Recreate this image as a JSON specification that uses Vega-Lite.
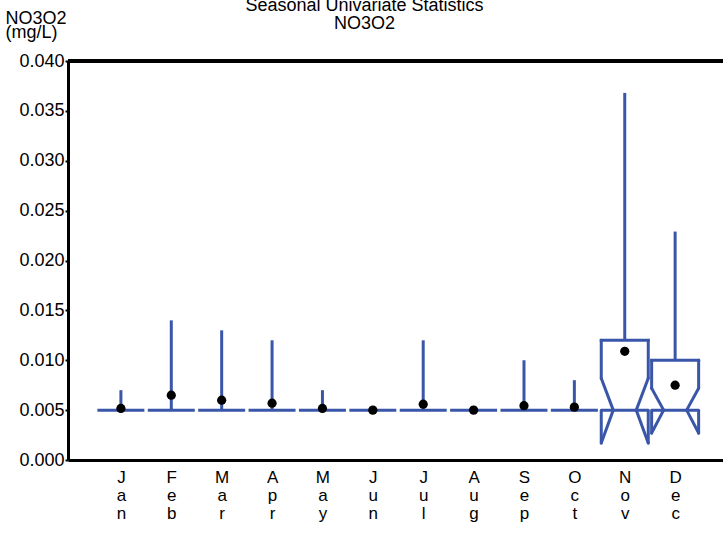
{
  "$schema": "https://vega.github.io/schema/vega-lite/v6.json",
  "autosize": {"type": "none"},
  "padding": {"left": 68, "top": 61, "right": 0, "bottom": 75},
  "width": 655,
  "height": 399,
  "background": "white",
  "title": {
    "text": ["Seasonal Univariate Statistics", "NO3O2"],
    "font": "Liberation Sans",
    "fontSize": 18,
    "fontWeight": "normal",
    "lineHeight": 18,
    "color": "black",
    "anchor": "middle",
    "frame": "group",
    "dx": -31,
    "dy": 28,
    "offset": 4
  },
  "config": {
    "view": {"stroke": null},
    "font": "Liberation Sans"
  },
  "data": {
    "values": [
      {"month": "Jan", "m": 1, "q1": 0.005, "med": 0.005, "q3": 0.005, "nlo": 0.005, "nhi": 0.005, "max": 0.007, "mean": 0.00517},
      {"month": "Feb", "m": 2, "q1": 0.005, "med": 0.005, "q3": 0.005, "nlo": 0.005, "nhi": 0.005, "max": 0.014, "mean": 0.0065},
      {"month": "Mar", "m": 3, "q1": 0.005, "med": 0.005, "q3": 0.005, "nlo": 0.005, "nhi": 0.005, "max": 0.013, "mean": 0.006},
      {"month": "Apr", "m": 4, "q1": 0.005, "med": 0.005, "q3": 0.005, "nlo": 0.005, "nhi": 0.005, "max": 0.012, "mean": 0.0057},
      {"month": "May", "m": 5, "q1": 0.005, "med": 0.005, "q3": 0.005, "nlo": 0.005, "nhi": 0.005, "max": 0.007, "mean": 0.00517},
      {"month": "Jun", "m": 6, "q1": 0.005, "med": 0.005, "q3": 0.005, "nlo": 0.005, "nhi": 0.005, "max": 0.005, "mean": 0.005},
      {"month": "Jul", "m": 7, "q1": 0.005, "med": 0.005, "q3": 0.005, "nlo": 0.005, "nhi": 0.005, "max": 0.012, "mean": 0.0056},
      {"month": "Aug", "m": 8, "q1": 0.005, "med": 0.005, "q3": 0.005, "nlo": 0.005, "nhi": 0.005, "max": 0.005, "mean": 0.005},
      {"month": "Sep", "m": 9, "q1": 0.005, "med": 0.005, "q3": 0.005, "nlo": 0.005, "nhi": 0.005, "max": 0.010, "mean": 0.00545},
      {"month": "Oct", "m": 10, "q1": 0.005, "med": 0.005, "q3": 0.005, "nlo": 0.005, "nhi": 0.005, "max": 0.008, "mean": 0.0053},
      {"month": "Nov", "m": 11, "q1": 0.005, "med": 0.005, "q3": 0.012, "nlo": 0.0017, "nhi": 0.0082, "max": 0.0368, "mean": 0.0109},
      {"month": "Dec", "m": 12, "q1": 0.005, "med": 0.005, "q3": 0.010, "nlo": 0.0027, "nhi": 0.0072, "max": 0.0229, "mean": 0.0075}
    ]
  },
  "encoding": {
    "y": {
      "type": "quantitative",
      "scale": {"domain": [0, 0.04], "nice": false, "zero": false},
      "axis": {
        "title": ["NO3O2", "(mg/L)"],
        "titleAngle": 0,
        "titleAlign": "left",
        "titleBaseline": "alphabetic",
        "titleX": -63,
        "titleY": -38,
        "titleFont": "Liberation Sans",
        "titleFontSize": 18,
        "titleFontWeight": "normal",
        "titleLineHeight": 14,
        "titleColor": "black",
        "values": [0, 0.005, 0.01, 0.015, 0.02, 0.025, 0.03, 0.035, 0.04],
        "format": ".3f",
        "grid": false,
        "domainColor": "black",
        "domainWidth": 3,
        "tickColor": "black",
        "tickSize": 3,
        "tickWidth": 2,
        "labelFont": "Liberation Sans",
        "labelFontSize": 18,
        "labelColor": "black",
        "labelPadding": 1,
        "labelBaseline": "middle"
      }
    }
  },
  "layer": [
    {
      "mark": {"type": "rule", "color": "black", "strokeWidth": 3},
      "encoding": {"y": {"datum": 0.04, "type": "quantitative"}}
    },
    {
      "encoding": {
        "x": {
          "field": "m",
          "type": "quantitative",
          "scale": {"domain": [-0.05, 12.95], "nice": false, "zero": false},
          "axis": {
            "title": null,
            "values": [1, 2, 3, 4, 5, 6, 7, 8, 9, 10, 11, 12],
            "labelExpr": "[['J','a','n'],['F','e','b'],['M','a','r'],['A','p','r'],['M','a','y'],['J','u','n'],['J','u','l'],['A','u','g'],['S','e','p'],['O','c','t'],['N','o','v'],['D','e','c']][datum.value - 1]",
            "ticks": false,
            "grid": false,
            "domainColor": "black",
            "domainWidth": 3,
            "labelFont": "Liberation Sans",
            "labelFontSize": 17,
            "labelColor": "black",
            "labelLineHeight": 18,
            "labelBaseline": "top",
            "labelPadding": 9,
            "labelFlush": false,
            "labelOverlap": false
          }
        }
      },
      "layer": [
        {
          "mark": {"type": "rule", "color": "#3a56a8", "strokeWidth": 3},
          "encoding": {"y": {"field": "q3"}, "y2": {"field": "max"}}
        },
        {
          "mark": {"type": "rule", "color": "#3a56a8", "strokeWidth": 3, "xOffset": -23.5, "x2Offset": 23.5},
          "encoding": {"x2": {"field": "m"}, "y": {"field": "q1"}}
        },
        {
          "transform": [{"filter": "datum.q3 > datum.q1"}],
          "layer": [
            {
              "mark": {"type": "rule", "color": "#3a56a8", "strokeWidth": 3, "strokeCap": "square", "xOffset": -23.5, "x2Offset": 23.5},
              "encoding": {"x2": {"field": "m"}, "y": {"field": "q3"}}
            },
            {
              "mark": {"type": "rule", "color": "#3a56a8", "strokeWidth": 3, "strokeCap": "round", "xOffset": -23.5, "x2Offset": -23.5},
              "encoding": {"x2": {"field": "m"}, "y": {"field": "q3"}, "y2": {"field": "nhi"}}
            },
            {
              "mark": {"type": "rule", "color": "#3a56a8", "strokeWidth": 3, "strokeCap": "round", "xOffset": 23.5, "x2Offset": 23.5},
              "encoding": {"x2": {"field": "m"}, "y": {"field": "q3"}, "y2": {"field": "nhi"}}
            },
            {
              "mark": {"type": "rule", "color": "#3a56a8", "strokeWidth": 3, "strokeCap": "round", "xOffset": -23.5, "x2Offset": -11.5},
              "encoding": {"x2": {"field": "m"}, "y": {"field": "nhi"}, "y2": {"field": "med"}}
            },
            {
              "mark": {"type": "rule", "color": "#3a56a8", "strokeWidth": 3, "strokeCap": "round", "xOffset": 23.5, "x2Offset": 11.5},
              "encoding": {"x2": {"field": "m"}, "y": {"field": "nhi"}, "y2": {"field": "med"}}
            },
            {
              "mark": {"type": "rule", "color": "#3a56a8", "strokeWidth": 3, "strokeCap": "round", "xOffset": -11.5, "x2Offset": -23.5},
              "encoding": {"x2": {"field": "m"}, "y": {"field": "med"}, "y2": {"field": "nlo"}}
            },
            {
              "mark": {"type": "rule", "color": "#3a56a8", "strokeWidth": 3, "strokeCap": "round", "xOffset": 11.5, "x2Offset": 23.5},
              "encoding": {"x2": {"field": "m"}, "y": {"field": "med"}, "y2": {"field": "nlo"}}
            },
            {
              "mark": {"type": "rule", "color": "#3a56a8", "strokeWidth": 3, "strokeCap": "round", "xOffset": -23.5, "x2Offset": -23.5},
              "encoding": {"x2": {"field": "m"}, "y": {"field": "nlo"}, "y2": {"field": "q1"}}
            },
            {
              "mark": {"type": "rule", "color": "#3a56a8", "strokeWidth": 3, "strokeCap": "round", "xOffset": 23.5, "x2Offset": 23.5},
              "encoding": {"x2": {"field": "m"}, "y": {"field": "nlo"}, "y2": {"field": "q1"}}
            }
          ]
        },
        {
          "mark": {"type": "circle", "color": "black", "opacity": 1, "size": 85},
          "encoding": {"y": {"field": "mean"}}
        }
      ]
    }
  ]
}
